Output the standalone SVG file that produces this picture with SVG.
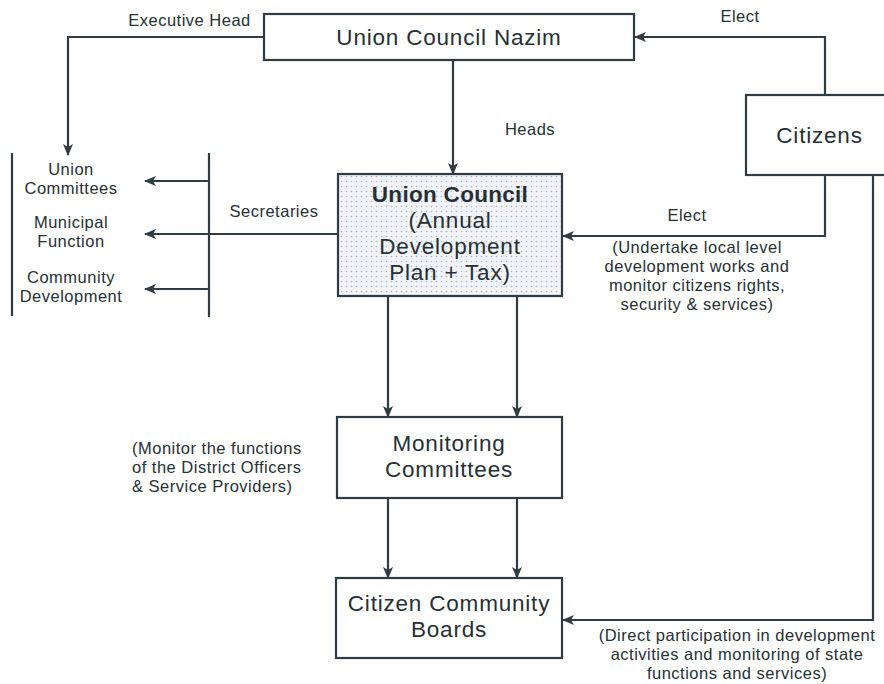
<svg xmlns="http://www.w3.org/2000/svg" width="884" height="684" viewBox="0 0 884 684">
<defs>
<pattern id="dots" width="5" height="5" patternUnits="userSpaceOnUse">
<rect width="5" height="5" fill="#f1f3f7"/>
<circle cx="1.5" cy="1.5" r="0.8" fill="#a9b3c4"/>
</pattern>
<marker id="arr" markerWidth="12" markerHeight="10" refX="11" refY="5" orient="auto" markerUnits="userSpaceOnUse">
<path d="M0,0 L12,5 L0,10 L3,5 Z" fill="#2f3d42"/>
</marker>
</defs>
<style>
.box{fill:#ffffff;stroke:#2f3d42;stroke-width:2.2}
.shaded{fill:url(#dots);stroke:#2f3d42;stroke-width:2.2}
.ln{fill:none;stroke:#2f3d42;stroke-width:2.2}
.big{font-family:"Liberation Sans",Arial,sans-serif;font-size:22.5px;letter-spacing:0.8px;fill:#263034;text-anchor:middle}
.bold{font-weight:bold;letter-spacing:0.3px}
.sm{font-family:"Liberation Sans",Arial,sans-serif;font-size:16.5px;letter-spacing:0.5px;fill:#263034;text-anchor:middle}
.lft{text-anchor:start}
</style>
<rect width="884" height="684" fill="#ffffff"/>
<g id="connectors">
<path class="ln" d="M264,37 H68 V155" marker-end="url(#arr)"/>
<path class="ln" d="M825,95 V37 H635" marker-end="url(#arr)"/>
<path class="ln" d="M453,60 V174" marker-end="url(#arr)"/>
<path class="ln" d="M825,175 V236 H563" marker-end="url(#arr)"/>
<path class="ln" d="M873,175 V620 H563" marker-end="url(#arr)"/>
<path class="ln" d="M338,234 H145" marker-end="url(#arr)"/>
<path class="ln" d="M209,181 H145" marker-end="url(#arr)"/>
<path class="ln" d="M209,289 H145" marker-end="url(#arr)"/>
<path class="ln" d="M12,153 V316"/>
<path class="ln" d="M209,153 V317"/>
<path class="ln" d="M388,296 V417" marker-end="url(#arr)"/>
<path class="ln" d="M517,296 V417" marker-end="url(#arr)"/>
<path class="ln" d="M388,498 V578" marker-end="url(#arr)"/>
<path class="ln" d="M517,498 V578" marker-end="url(#arr)"/>
<text class="sm" x="189.5" y="26">Executive Head</text>
<text class="sm" x="740" y="22">Elect</text>
<text class="sm" x="530" y="135">Heads</text>
<text class="sm" x="274" y="217">Secretaries</text>
<text class="sm" x="687" y="221">Elect</text>
<text class="sm" x="697" y="252.5">(Undertake local level<tspan x="697" y="271.5">development works and</tspan><tspan x="697" y="290.5">monitor citizens rights,</tspan><tspan x="697" y="309.5">security &amp; services)</tspan></text>
<text class="sm lft" x="132" y="453.5">(Monitor the functions<tspan x="132" y="472.5">of the District Officers</tspan><tspan x="132" y="491.5">&amp; Service Providers)</tspan></text>
<text class="sm" x="737" y="640.5">(Direct participation in development<tspan x="737" y="659.5">activities and monitoring of state</tspan><tspan x="737" y="678.5">functions and services)</tspan></text>
</g>
<g id="nazim">
<rect class="box" x="264" y="14" width="370" height="46"/>
<text class="big" x="449" y="44.5">Union Council Nazim</text>
</g>
<g id="citizens">
<rect class="box" x="746" y="95" width="140" height="80"/>
<text class="big" x="819.5" y="143">Citizens</text>
</g>
<g id="union-council">
<rect class="shaded" x="338" y="174" width="224" height="122"/>
<text class="big" x="450" y="201.5"><tspan class="bold">Union Council</tspan><tspan x="450" y="227.5">(Annual</tspan><tspan x="450" y="253.5">Development</tspan><tspan x="450" y="279.5">Plan + Tax)</tspan></text>
</g>
<g id="union-committees">
<text class="sm" x="71" y="175">Union<tspan x="71" y="194">Committees</tspan></text>
</g>
<g id="municipal-function">
<text class="sm" x="71" y="228">Municipal<tspan x="71" y="247">Function</tspan></text>
</g>
<g id="community-development">
<text class="sm" x="71" y="283">Community<tspan x="71" y="302">Development</tspan></text>
</g>
<g id="monitoring">
<rect class="box" x="337" y="417" width="225" height="81"/>
<text class="big" x="449" y="451">Monitoring<tspan x="449" y="477">Committees</tspan></text>
</g>
<g id="ccb">
<rect class="box" x="336" y="578" width="226" height="80"/>
<text class="big" x="449" y="611">Citizen Community<tspan x="449" y="637">Boards</tspan></text>
</g>
</svg>
